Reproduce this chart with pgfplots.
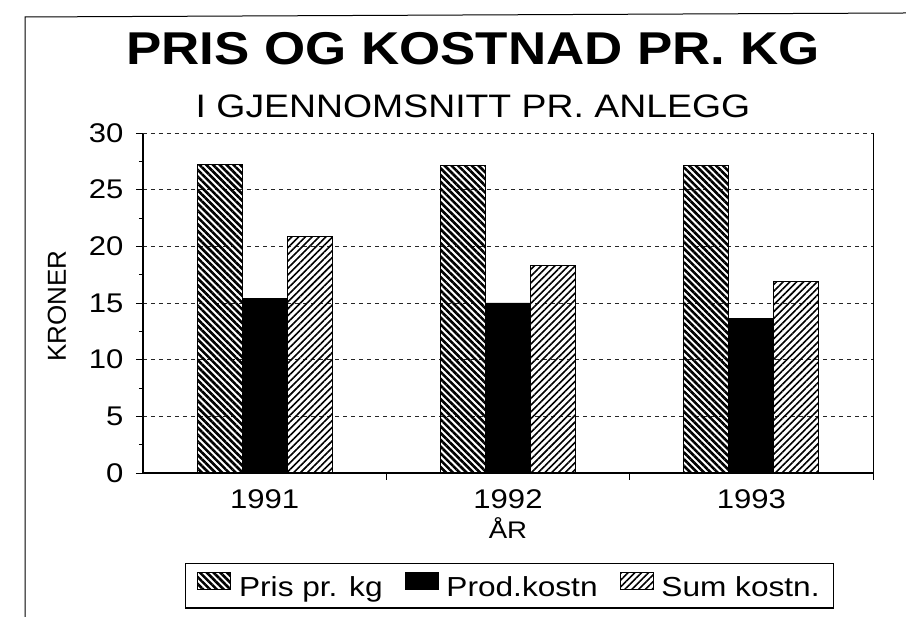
\documentclass[border=0pt]{standalone}
\usepackage{pgfplots}
\pgfplotsset{compat=1.18}
\usetikzlibrary{patterns.meta}
\usepackage{fontspec}
\setmainfont{Liberation Sans}[FakeStretch=1.15]
\newfontfamily\plainfont{Liberation Sans}
\begin{document}
\begin{tikzpicture}
\begin{scope}[x=1pt,y=1pt]
\path[use as bounding box] (0,0) rectangle (906,617);
\draw[line width=1pt] (25,0) -- (25,600) -- (906,604);
\end{scope}
\begin{axis}[
  at={(143pt,144pt)}, anchor=south west,
  scale only axis, width=730pt, height=340pt,
  ybar=0pt, bar width=45pt,
  xmin=-0.5, xmax=2.5, ymin=0, ymax=30,
  axis lines*=left,
  axis line style={line width=1.2pt, black},
  xtick={0.5,1.5,2.5}, xticklabels={},
  extra x ticks={0,1,2},
  extra x tick labels={1991,1992,1993},
  extra x tick style={major tick length=0pt},
  ytick={0,5,...,30},
  minor y tick num=1,
  tick align=outside,
  major tick length=7pt, minor tick length=4pt,
  tick style={black, line width=0.8pt},
  ymajorgrids,
  major grid style={black!85, line width=0.7pt, dash pattern=on 4pt off 4pt},
  /pgf/number format/assume math mode=true,
  ticklabel style={font=\fontsize{27}{30}\selectfont},
  xticklabel style={anchor=base, yshift=-36pt},
  yticklabel style={anchor=east, xshift=-9pt},
  xlabel={ÅR},
  xlabel style={at={(axis description cs:0.5,-0.194)}, anchor=base, font=\fontsize{24}{26}\selectfont},
  ylabel={KRONER},
  ylabel style={at={(axis description cs:-0.118,0.491)}, anchor=center, rotate=0, font=\plainfont\fontsize{26}{30}\selectfont},
  legend columns=3,
  legend image code/.code={\draw[#1, line width=0.8pt] (0pt,-2pt) rectangle (33pt,15pt);},
  legend style={at={(0.502,-0.332)}, anchor=center, draw=black, line width=1.2pt,
    font=\fontsize{27.5}{30}\selectfont, inner xsep=12pt, inner ysep=8pt,
    /tikz/every odd column/.append style={column sep=6pt},
    /tikz/every even column/.append style={column sep=20pt}},
  clip=false,
]
\addplot[draw=black, line width=0.9pt, pattern={Lines[angle=-45,distance=4.8pt,line width=2.6pt]}]
  coordinates {(0,27.2) (1,27.1) (2,27.1)};
\addplot[draw=black, line width=0.9pt, fill=black]
  coordinates {(0,15.4) (1,15.0) (2,13.6)};
\addplot[draw=black, line width=0.9pt, pattern={Lines[angle=45,distance=4.8pt,line width=1.6pt]}]
  coordinates {(0,20.9) (1,18.3) (2,16.9)};
\legend{Pris pr. kg, Prod.kostn, Sum kostn.}
\draw[black!85, line width=0.7pt, dash pattern=on 4pt off 4pt] (rel axis cs:0,1) -- (rel axis cs:1,1);
\draw[black, line width=0.8pt] (rel axis cs:1,0) -- (rel axis cs:1,1);
\node[anchor=base, font=\fontsize{46}{50}\selectfont\bfseries] at (axis description cs:0.452,1.2) {PRIS OG KOSTNAD PR. KG};
\node[anchor=base, font=\fontsize{32.5}{36}\selectfont] at (axis description cs:0.452,1.047) {I GJENNOMSNITT PR. ANLEGG};
\end{axis}
\end{tikzpicture}
\end{document}
